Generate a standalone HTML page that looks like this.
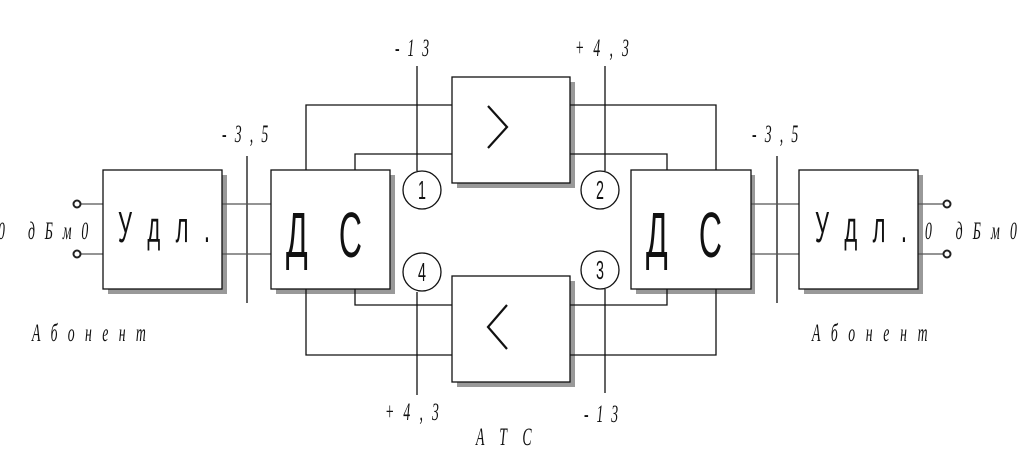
<!DOCTYPE html>
<html><head><meta charset="utf-8"><style>
html,body{margin:0;padding:0;background:#fff;}
svg{display:block}
text{font-family:"Liberation Serif","DejaVu Serif",serif;font-style:italic;fill:#111;}
.big{font-family:"Liberation Sans Narrow","Liberation Sans",sans-serif;font-style:normal;}
</style></head><body>
<svg width="1024" height="460" viewBox="0 0 1024 460" xmlns="http://www.w3.org/2000/svg">
<g fill="#999" stroke="none">
<rect x="108" y="175" width="119" height="119"/>
<rect x="276" y="175" width="119" height="119"/>
<rect x="636" y="175" width="119" height="119"/>
<rect x="804" y="175" width="119" height="119"/>
<rect x="457" y="82" width="118" height="106"/>
<rect x="457" y="281" width="118" height="106"/>
</g>
<g stroke="#111" stroke-width="1.3" fill="none">
<polyline points="306,170 306,105 452,105"/>
<polyline points="570,105 716,105 716,170"/>
<polyline points="355,170 355,154 452,154"/>
<polyline points="570,154 667,154 667,170"/>
<polyline points="355,289 355,305 452,305"/>
<polyline points="570,305 667,305 667,289"/>
<polyline points="306,289 306,355 452,355"/>
<polyline points="570,355 716,355 716,289"/>
<line x1="417" y1="66" x2="417" y2="171"/>
<line x1="417" y1="292" x2="417" y2="395"/>
<line x1="605" y1="66" x2="605" y2="171"/>
<line x1="605" y1="289" x2="605" y2="393"/>
<line x1="247" y1="156" x2="247" y2="303"/>
<line x1="777" y1="156" x2="777" y2="303"/>
</g>
<g stroke="#555" stroke-width="1.2">
<line x1="80" y1="204" x2="103" y2="204"/><line x1="80" y1="254" x2="103" y2="254"/>
<line x1="222" y1="204" x2="271" y2="204"/><line x1="222" y1="254" x2="271" y2="254"/>
<line x1="751" y1="204" x2="799" y2="204"/><line x1="751" y1="254" x2="799" y2="254"/>
<line x1="918" y1="204" x2="944" y2="204"/><line x1="918" y1="254" x2="944" y2="254"/>
</g>
<g stroke="#222" stroke-width="2" fill="#fff">
<circle cx="77" cy="204" r="3.5"/><circle cx="77" cy="254" r="3.5"/>
<circle cx="947" cy="204" r="3.5"/><circle cx="947" cy="254" r="3.5"/>
</g>
<g stroke="#111" stroke-width="1.3" fill="#fff">
<rect x="103" y="170" width="119" height="119"/>
<rect x="271" y="170" width="119" height="119"/>
<rect x="631" y="170" width="120" height="119"/>
<rect x="799" y="170" width="119" height="119"/>
<rect x="452" y="77" width="118" height="106"/>
<rect x="452" y="276" width="118" height="106"/>
<circle cx="422" cy="190" r="19"/>
<circle cx="422" cy="272" r="19"/>
<circle cx="600" cy="190" r="19"/>
<circle cx="600" cy="270" r="19"/>
</g>
<g stroke="#111" stroke-width="2.2" fill="none">
<polyline points="488,106 507,127 488,148"/>
<polyline points="507,305 488,327 507,349"/>
</g>
<g class="big">
<text class="big" font-size="44" transform="translate(118,242) scale(0.5,1)" textLength="184" lengthAdjust="spacing">У д л .</text>
<text class="big" font-size="64" transform="translate(286,257) scale(0.5,1)" textLength="152" lengthAdjust="spacing">Д  С</text>
<text class="big" font-size="64" transform="translate(646,257) scale(0.5,1)" textLength="152" lengthAdjust="spacing">Д  С</text>
<text class="big" font-size="44" transform="translate(815,242) scale(0.5,1)" textLength="184" lengthAdjust="spacing">У д л .</text>
</g>
<g class="big" text-anchor="middle" font-size="26">
<text class="big" transform="translate(422,199) scale(0.55,1)">1</text>
<text class="big" transform="translate(422,281) scale(0.55,1)">4</text>
<text class="big" transform="translate(600,199) scale(0.55,1)">2</text>
<text class="big" transform="translate(600,279) scale(0.55,1)">3</text>
</g>
<g font-size="25">
<text transform="translate(-2,239) scale(0.55,1)" textLength="164" lengthAdjust="spacing">0 дБм0</text>
<text transform="translate(925,239) scale(0.55,1)" textLength="167" lengthAdjust="spacing">0 дБм0</text>
<text transform="translate(32,341) scale(0.55,1)" textLength="207" lengthAdjust="spacing">Абонент</text>
<text transform="translate(812,341) scale(0.55,1)" textLength="210" lengthAdjust="spacing">Абонент</text>
<text transform="translate(222,142) scale(0.55,1)" textLength="84" lengthAdjust="spacing">-3,5</text>
<text transform="translate(752,142) scale(0.55,1)" textLength="84" lengthAdjust="spacing">-3,5</text>
<text transform="translate(395,56) scale(0.55,1)" textLength="62" lengthAdjust="spacing">-13</text>
<text transform="translate(575,56) scale(0.55,1)" textLength="98" lengthAdjust="spacing">+4,3</text>
<text transform="translate(385,420) scale(0.55,1)" textLength="98" lengthAdjust="spacing">+4,3</text>
<text transform="translate(584,422) scale(0.55,1)" textLength="62" lengthAdjust="spacing">-13</text>
<text transform="translate(476,445) scale(0.55,1)" textLength="101" lengthAdjust="spacing">АТС</text>
</g>
</svg>
</body></html>
